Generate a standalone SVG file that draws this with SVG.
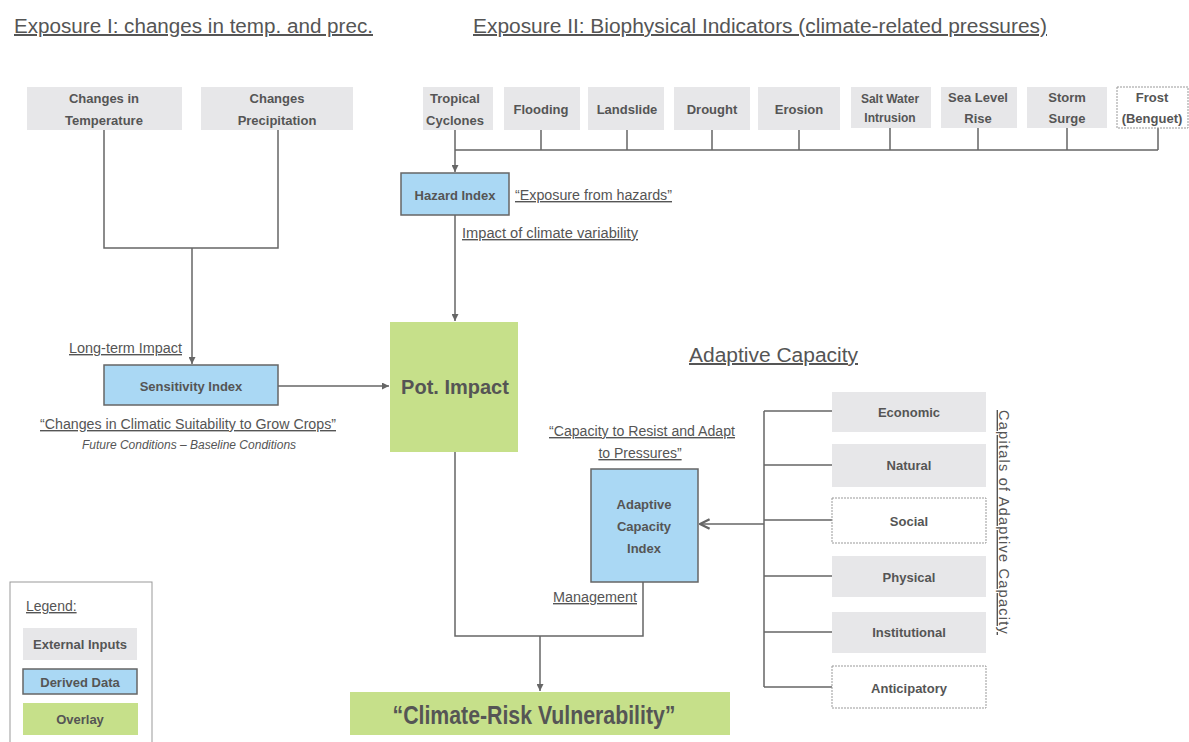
<svg xmlns="http://www.w3.org/2000/svg" width="1189" height="742" viewBox="0 0 1189 742">
<style>
text{font-family:"Liberation Sans",Arial,sans-serif;fill:#555;}
.title{font-size:20px;text-decoration:underline;}
.b{font-size:13px;font-weight:bold;text-anchor:middle;}
.bs{font-size:12px;font-weight:bold;text-anchor:middle;}
.lab{font-size:14px;text-decoration:underline;}
.gray{fill:#e7e7e9;stroke:none;}
.white{fill:#fff;stroke:#999;stroke-width:1;stroke-dasharray:2 1;}
.blue{fill:#aad8f4;stroke:#666;stroke-width:1.5;}
.green{fill:#c6e08a;stroke:none;}
.ln{fill:none;stroke:#666;stroke-width:1.5;}
</style>
<defs>
<marker id="ah" viewBox="0 0 10 10" refX="10" refY="5" markerWidth="7" markerHeight="7" orient="auto" markerUnits="userSpaceOnUse">
<path d="M0,0 L10,5 L0,10 z" fill="#666"/>
</marker>
<marker id="ahv" viewBox="0 0 10 10" refX="9" refY="5" markerWidth="12" markerHeight="12" orient="auto" markerUnits="userSpaceOnUse">
<path d="M1,1 L9,5 L1,9" fill="none" stroke="#666" stroke-width="2"/>
</marker>
</defs>
<rect width="1189" height="742" fill="#fff"/>

<text class="title" x="14" y="33" textLength="359" lengthAdjust="spacingAndGlyphs">Exposure I: changes in temp. and prec.</text>
<text class="title" x="473" y="33" textLength="574" lengthAdjust="spacingAndGlyphs">Exposure II: Biophysical Indicators (climate-related pressures)</text>
<text class="title" x="689" y="362" textLength="169" lengthAdjust="spacingAndGlyphs">Adaptive Capacity</text>

<g id="connectors">
<path class="ln" d="M104,130 V248 H278 V130"/>
<path class="ln" d="M192,248 V364" marker-end="url(#ah)"/>
<path class="ln" d="M278,386 H389" marker-end="url(#ah)"/>
<path class="ln" d="M455,128 V150 M541,130 V150 M627,130 V150 M712,130 V150 M799,130 V150 M890,128 V150 M978,128 V150 M1067,128 V150 M1158,128 V150 M455,150 H1158"/>
<path class="ln" d="M455,150 V172" marker-end="url(#ah)"/>
<path class="ln" d="M455,215 V321" marker-end="url(#ah)"/>
<path class="ln" d="M455,452 V636 H643 V582"/>
<path class="ln" d="M540,636 V691" marker-end="url(#ah)"/>
<path class="ln" d="M764,411 V687 M764,411 H832 M764,465 H832 M764,520 H832 M764,576 H832 M764,632 H832 M764,687 H832"/>
<path class="ln" d="M764,524 H700" stroke-width="2.5" marker-end="url(#ahv)"/>
</g>

<g id="changes-temperature"><rect class="gray" x="27" y="87" width="155" height="43"/><text class="b" x="104" y="103">Changes in</text><text class="b" x="104" y="125">Temperature</text></g>
<g id="changes-precipitation"><rect class="gray" x="201" y="87" width="152" height="43"/><text class="b" x="277" y="103">Changes</text><text class="b" x="277" y="125">Precipitation</text></g>

<g id="tropical-cyclones"><rect class="gray" x="423" y="87" width="70" height="43"/><text class="b" x="455" y="103">Tropical</text><text class="b" x="455" y="125">Cyclones</text></g>
<g id="flooding"><rect class="gray" x="504" y="87" width="76" height="43"/><text class="b" x="541" y="114">Flooding</text></g>
<g id="landslide"><rect class="gray" x="588" y="87" width="76" height="43"/><text class="b" x="627" y="114">Landslide</text></g>
<g id="drought"><rect class="gray" x="674" y="87" width="76" height="43"/><text class="b" x="712" y="114">Drought</text></g>
<g id="erosion"><rect class="gray" x="758" y="87" width="82" height="43"/><text class="b" x="799" y="114">Erosion</text></g>
<g id="salt-water"><rect class="gray" x="851" y="87" width="80" height="41"/><text class="bs" x="890" y="103">Salt Water</text><text class="bs" x="890" y="122">Intrusion</text></g>
<g id="sea-level"><rect class="gray" x="941" y="87" width="76" height="41"/><text class="b" x="978" y="102">Sea Level</text><text class="b" x="978" y="123">Rise</text></g>
<g id="storm-surge"><rect class="gray" x="1027" y="87" width="80" height="41"/><text class="b" x="1067" y="102">Storm</text><text class="b" x="1067" y="123">Surge</text></g>
<g id="frost"><rect class="white" x="1117" y="87" width="71" height="41"/><text class="b" x="1152" y="102">Frost</text><text class="b" x="1152" y="123">(Benguet)</text></g>

<g id="hazard-index"><rect class="blue" x="401" y="173" width="108" height="42"/><text class="b" x="455" y="200">Hazard Index</text></g>
<text class="lab" x="515" y="200" textLength="157" lengthAdjust="spacingAndGlyphs">“Exposure from hazards”</text>
<text class="lab" x="462" y="238" textLength="176" lengthAdjust="spacingAndGlyphs">Impact of climate variability</text>

<g id="sensitivity-index"><rect class="blue" x="104" y="365" width="174" height="40"/><text class="b" x="191" y="391">Sensitivity Index</text></g>
<text class="lab" x="69" y="353" textLength="113" lengthAdjust="spacingAndGlyphs">Long-term Impact</text>
<text class="lab" x="40" y="429" textLength="296" lengthAdjust="spacingAndGlyphs">“Changes in Climatic Suitability to Grow Crops”</text>
<text x="189" y="449" style="font-size:12px;font-style:italic;text-anchor:middle">Future Conditions – Baseline Conditions</text>

<g id="pot-impact"><rect class="green" x="390" y="322" width="128" height="130"/><text x="455" y="394" style="font-size:20px;font-weight:bold;text-anchor:middle">Pot. Impact</text></g>

<g id="adaptive-capacity-index"><rect class="blue" x="591" y="469" width="107" height="113"/><text class="b" x="644" y="509">Adaptive</text><text class="b" x="644" y="531">Capacity</text><text class="b" x="644" y="553">Index</text></g>
<text class="lab" x="549" y="436" textLength="186" lengthAdjust="spacingAndGlyphs">“Capacity to Resist and Adapt</text>
<text class="lab" x="640" y="458" style="text-anchor:middle">to Pressures”</text>
<text class="lab" x="553" y="602" textLength="84" lengthAdjust="spacingAndGlyphs">Management</text>

<g id="economic"><rect class="gray" x="832" y="392" width="154" height="40"/><text class="b" x="909" y="417">Economic</text></g>
<g id="natural"><rect class="gray" x="832" y="444" width="154" height="43"/><text class="b" x="909" y="470">Natural</text></g>
<g id="social"><rect class="white" x="832" y="498" width="154" height="45"/><text class="b" x="909" y="526">Social</text></g>
<g id="physical"><rect class="gray" x="832" y="556" width="154" height="41"/><text class="b" x="909" y="582">Physical</text></g>
<g id="institutional"><rect class="gray" x="832" y="612" width="154" height="41"/><text class="b" x="909" y="637">Institutional</text></g>
<g id="anticipatory"><rect class="white" x="832" y="666" width="154" height="42"/><text class="b" x="909" y="693">Anticipatory</text></g>
<text transform="rotate(90 999 410)" x="999" y="410" textLength="225" lengthAdjust="spacingAndGlyphs" style="font-size:14px;letter-spacing:1.2px;text-decoration:underline">Capitals of Adaptive Capacity</text>

<g id="climate-risk-vulnerability"><rect class="green" x="350" y="692" width="380" height="43"/><text x="534" y="724" textLength="283" lengthAdjust="spacingAndGlyphs" style="font-size:25px;font-weight:bold;text-anchor:middle">“Climate-Risk Vulnerability”</text></g>

<g id="legend">
<rect x="10" y="582" width="142" height="170" fill="#fff" stroke="#999" stroke-width="1"/>
<text class="lab" x="26" y="611">Legend:</text>
<rect class="gray" x="23" y="628" width="114" height="32"/><text class="b" x="80" y="649">External Inputs</text>
<rect class="blue" x="23" y="669" width="114" height="25"/><text class="b" x="80" y="687">Derived Data</text>
<rect class="green" x="23" y="703" width="115" height="32"/><text class="b" x="80" y="724">Overlay</text>
</g>
</svg>
